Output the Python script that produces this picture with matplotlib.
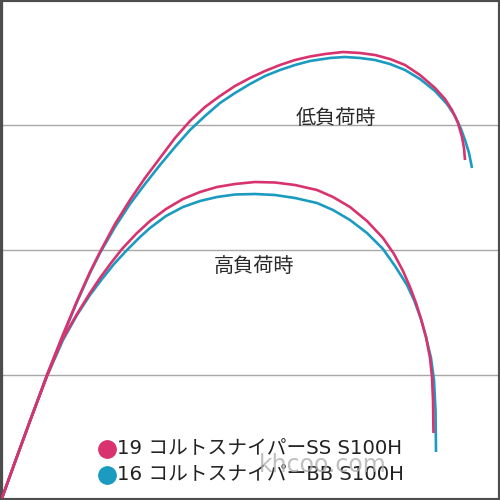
import matplotlib
matplotlib.use('Agg')
import matplotlib.pyplot as plt

plt.rcParams['font.family'] = ['Noto Sans CJK JP', 'DejaVu Sans']

# chart units: x 0-500, y 0-500 (gridlines at 125 / 250 / 375)
# low load (低負荷時)
low_19_x = [2, 15, 30, 47, 62, 77, 90, 100, 115, 130, 145, 160, 175, 190, 205,
            220, 235, 250, 265, 280, 295, 310, 325, 343, 360, 375, 390, 405,
            420, 435, 445, 452, 458, 462, 464, 465]
low_19_y = [2, 38, 79, 125, 163, 199, 228, 248, 276, 300, 322, 342, 362, 379,
            393, 404, 414, 422, 429, 435, 440, 443.5, 446, 448, 447, 445, 441,
            435, 425, 412, 401, 390, 377, 363, 352, 340]
low_16_x = [2, 15, 30, 47, 62, 77, 90, 100, 115, 130, 145, 160, 175, 190, 205,
            220, 235, 250, 265, 280, 295, 310, 330, 345, 360, 375, 390, 405,
            420, 435, 447, 455, 461, 465, 469, 472]
low_16_y = [2, 38, 79, 125, 162, 198, 227, 247, 273, 296, 316, 335, 353, 370,
            384, 397, 407, 416, 424, 430, 435, 439, 442, 443, 442, 440, 436,
            430, 421, 409, 396, 384, 371, 360, 347, 332]

# high load (高負荷時)
high_19_x = [2, 15, 30, 47, 62, 77, 90, 100, 111, 122, 136, 150, 166, 183, 200,
             217, 235, 255, 275, 295, 317, 333, 350, 367, 383, 394, 403, 410,
             416, 421, 426, 430, 432, 433, 433.5]
high_19_y = [2, 38, 79, 124, 160, 186, 207, 222, 237, 251, 266, 279, 291, 301,
             308, 313, 316, 318, 317.5, 315, 310, 303, 293, 279, 262, 246, 229,
             213, 197, 181, 163, 142, 123, 100, 67]
high_16_x = [2, 15, 30, 47, 63, 77, 90, 102, 114, 127, 140, 150, 166, 183, 200,
             217, 235, 255, 275, 295, 317, 333, 350, 367, 383, 395, 407, 414,
             421, 426, 431, 434, 435.5, 436]
high_16_y = [2, 38, 79, 124, 160, 185, 205, 221, 236, 250, 263, 272, 284, 293,
             299, 303, 305.5, 306, 305, 302, 297, 290, 280, 267, 251, 234, 215,
             200, 181, 163, 142, 120, 90, 48]

labels = ['19 コルトスナイパーSS S100H', '16 コルトスナイパーBB S100H']
pink = '#d8336f'
cyan = '#1c9bc0'

fig = plt.figure(figsize=(5, 5), dpi=100)
ax = fig.add_axes([0, 0, 1, 1])
ax.set_xlim(0, 500)
ax.set_ylim(0, 500)
ax.set_xticks([])
ax.set_yticks([])

for y in [125, 250, 375]:
    ax.axhline(y, color='#a8a8a8', lw=1.0, zorder=1)

ax.plot(low_16_x, low_16_y, color=cyan, lw=1.9, zorder=2, solid_capstyle='butt')
ax.plot(high_16_x, high_16_y, color=cyan, lw=1.9, zorder=2, solid_capstyle='butt')
ax.plot(low_19_x, low_19_y, color=pink, lw=1.9, zorder=3, solid_capstyle='butt')
ax.plot(high_19_x, high_19_y, color=pink, lw=1.9, zorder=3, solid_capstyle='butt')

ax.text(336, 381, '低負荷時', fontsize=14.5, color='#2a2a2a',
        ha='center', va='center')
ax.text(254, 233, '高負荷時', fontsize=14.5, color='#2a2a2a',
        ha='center', va='center')

# legend
for i, (lab, col) in enumerate(zip(labels, [pink, cyan])):
    yy = 0.102 - i * 0.052
    ax.plot([0.214], [yy], 'o', color=col, ms=12.5, transform=ax.transAxes,
            clip_on=False, zorder=4)
    ax.text(0.234, yy, lab, fontsize=14.2, color='#222222', ha='left',
            va='center', transform=ax.transAxes, zorder=4,
            family=['DejaVu Sans', 'Noto Sans CJK JP'])

ax.text(0.646, 0.07, 'khcoo.com', fontsize=17, color='#b0b0b0', alpha=0.8,
        ha='center', va='center', transform=ax.transAxes, zorder=5,
        family='DejaVu Sans')

for side in ['top', 'right', 'bottom']:
    ax.spines[side].set_linewidth(3)
    ax.spines[side].set_color('#4d4d4d')
ax.spines['left'].set_linewidth(4.5)
ax.spines['left'].set_color('#4d4d4d')

fig.savefig('out.png', dpi=100)
